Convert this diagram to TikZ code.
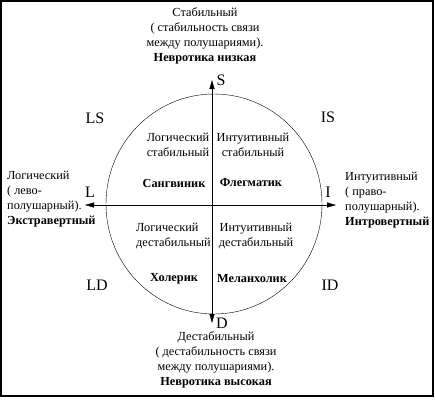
\documentclass[tikz,border=0pt]{standalone}
\usepackage{fontspec}
\setmainfont{Liberation Serif}
\usetikzlibrary{arrows.meta}
\usetikzlibrary{shapes.geometric}

\begin{document}
\begin{tikzpicture}[x=1pt, y=-1pt, inner sep=0pt,
	font=\fontsize{12.3}{15}\selectfont,
	achse/.style={{Triangle[length=9pt,width=5pt]}-{Triangle[length=9pt,width=5pt]}},
	pol/.style={font=\fontsize{16}{18}\selectfont},
	typ/.style={font=\fontsize{12.3}{15}\bfseries}]

	\useasboundingbox (0,0) rectangle (435,405);
	\draw[line width=1.3pt] (1,1) rectangle (433,396);

	% Kreis und Achsen
	\node[draw, ellipse, minimum width=216pt, minimum height=220pt] (K) at (214,204) {};

	\coordinate (N) at (212,80);
	\coordinate (Su) at (212,323);
	\coordinate (W) at (85,205);
	\coordinate (O) at (336,205);

	\draw[achse] (W) -- (O);
	\draw[achse] (N) -- (Su);

	% Pole
	\node[pol] (S) at (221,80) {S};
	\node[pol] (D) at (222,323) {D};
	\node[pol] (L) at (90,192) {L};
	\node[pol] (I) at (328,192) {I};
	\node[pol] (LS) at (95,118) {LS};
	\node[pol] (IS) at (328,117) {IS};
	\node[pol] (LD) at (97,285) {LD};
	\node[pol] (ID) at (330,285) {ID};

	% Beschriftung aussen
	\node[align=center] (oben) at (205,36) {Стабильный\\( стабильность связи\\между полушариями).\\\textbf{Невротика низкая}};
	\node[align=center] (unten) at (216,360) {Дестабильный\\( дестабильность связи\\между полушариями).\\\textbf{Невротика высокая}};
	\node[align=left, anchor=west] (links) at (7,199) {Логический\\( лево-\\полушарный).\\\textbf{Экстравертный}};
	\node[align=left, anchor=west] (rechts) at (345,200) {Интуитивный\\( право-\\полушарный).\\\textbf{Интровертный}};

	% Quadranten
	\node[align=center] (q1) at (178,145) {Логический\\стабильный};
	\node[align=center] (q2) at (253,145) {Интуитивный\\стабильный};
	\node[align=left, anchor=west] (q3) at (136,236) {Логический\\дестабильный};
	\node[align=center] (q4) at (256,236) {Интуитивный\\дестабильный};

	\node[typ] (san) at (174,183) {Сангвиник};
	\node[typ] (fle) at (251,183) {Флегматик};
	\node[typ] (cho) at (174,279) {Холерик};
	\node[typ] (mel) at (252,279) {Меланхолик};

\end{tikzpicture}
\end{document}
